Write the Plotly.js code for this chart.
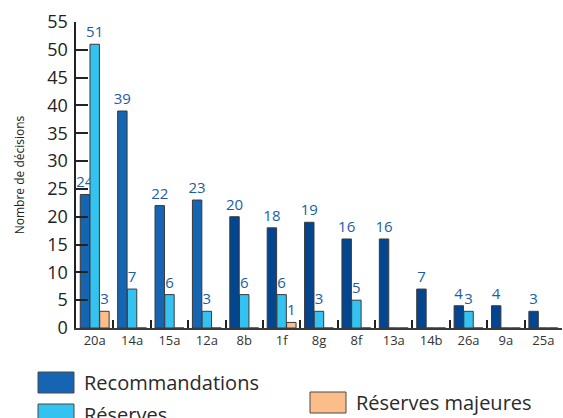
<!DOCTYPE html>
<html>
<head>
<meta charset="utf-8">
<script src="https://cdn.plot.ly/plotly-3.0.1.min.js"></script>
<style>
  html, body { margin: 0; padding: 0; background: #fff; }
  #chart { width: 563px; height: 418px; }
</style>
</head>
<body>
<div id="chart"></div>
<script>
// Décisions par critère
const categories = ['20a', '14a', '15a', '12a', '8b', '1f', '8g', '8f', '13a', '14b', '26a', '9a', '25a'];
const recommandations = [24, 39, 22, 23, 20, 18, 19, 16, 16, 7, 4, 4, 3];
const reserves = [51, 7, 6, 3, 6, 6, 3, 5, 0, 0, 3, 0, 0];
const reservesMajeures = [3, 0, 0, 0, 0, 1, 0, 0, 0, 0, 0, 0, 0];
const seriesNames = ['Recommandations', 'Réserves', 'Réserves majeures'];
const yTicks = [0, 5, 10, 15, 20, 25, 30, 35, 40, 45, 50, 55];

// plot area in pixels
const W = 563, H = 418;
const M = { l: 76, r: 1, t: 22, b: 90 };
const plotW = W - M.l - M.r, plotH = H - M.t - M.b;
const px = x => (x - M.l) / plotW;
const py = y => (H - M.b - y) / plotH;

const FONT = '"Open Sans", "Noto Sans", sans-serif';
const LABEL_COLOR = '#1b5ca8';
const OUTLINE = '#3a3a3a';

const blueLight = '#1565b3';
const blueDark = '#03468f';
const cyan = '#34c3f0';
const orange = '#fbbd89';

// the first four criteria use the lighter blue
const recColors = categories.map((c, i) => i < 4 ? blueLight : blueDark);

const label = arr => arr.map(v => v > 0 ? String(v) : '');

function barTrace(name, values, color) {
  return {
    type: 'bar',
    name: name,
    x: categories,
    y: values,
    text: label(values),
    textposition: 'outside',
    constraintext: 'none',
    cliponaxis: false,
    textfont: { family: FONT, size: 15, color: LABEL_COLOR },
    marker: { color: color, line: { color: OUTLINE, width: 1 } },
    showlegend: false,
    hoverinfo: 'x+y+name'
  };
}

const data = [
  barTrace(seriesNames[0], recommandations, recColors),
  barTrace(seriesNames[1], reserves, cyan),
  barTrace(seriesNames[2], reservesMajeures, orange)
];

// legend drawn as large swatches below the axis
const legendItems = [
  { name: seriesNames[0], color: blueLight, x0: 38, y0: 372 },
  { name: seriesNames[1], color: cyan, x0: 38, y0: 404 },
  { name: seriesNames[2], color: orange, x0: 310, y0: 392 }
];
const SW = 36, SH = 21;
const shapes = legendItems.map(it => ({
  type: 'rect', xref: 'paper', yref: 'paper', layer: 'above',
  x0: px(it.x0), x1: px(it.x0 + SW), y0: py(it.y0 + SH), y1: py(it.y0),
  fillcolor: it.color, line: { color: '#4a4a4a', width: 1 }
}));
const annotations = legendItems.map(it => ({
  xref: 'paper', yref: 'paper', showarrow: false,
  x: px(it.x0 + SW + 8), y: py(it.y0 + SH / 2),
  xanchor: 'left', yanchor: 'middle',
  text: it.name,
  font: { family: FONT, size: 20, color: '#2a2a2a' }
}));

const layout = {
  width: W, height: H,
  margin: M,
  paper_bgcolor: '#fff', plot_bgcolor: '#fff',
  font: { family: FONT, color: '#222' },
  barmode: 'group',
  bargap: 0.22,
  bargroupgap: 0.03,
  xaxis: {
    type: 'category',
    showline: true, linecolor: OUTLINE, linewidth: 1.5,
    ticks: 'inside', tickson: 'boundaries', ticklen: 8, tickwidth: 2, tickcolor: '#222',
    showgrid: false, zeroline: false,
    tickfont: { family: FONT, size: 13, color: '#333' },
    fixedrange: true
  },
  yaxis: {
    range: [0, 55],
    tickvals: yTicks,
    ticks: 'inside', ticklen: 12, tickwidth: 2, tickcolor: '#222',
    showline: true, linecolor: '#222', linewidth: 2.5,
    showgrid: false, zeroline: false,
    tickfont: { family: FONT, size: 18, color: '#222' },
    ticklabelstandoff: 2,
    title: { text: 'Nombre de décisions', font: { family: FONT, size: 12, color: '#222' }, standoff: 20 },
    fixedrange: true
  },
  shapes: shapes,
  annotations: annotations
};

Plotly.newPlot('chart', data, layout, { displayModeBar: false, staticPlot: true });
</script>
</body>
</html>
